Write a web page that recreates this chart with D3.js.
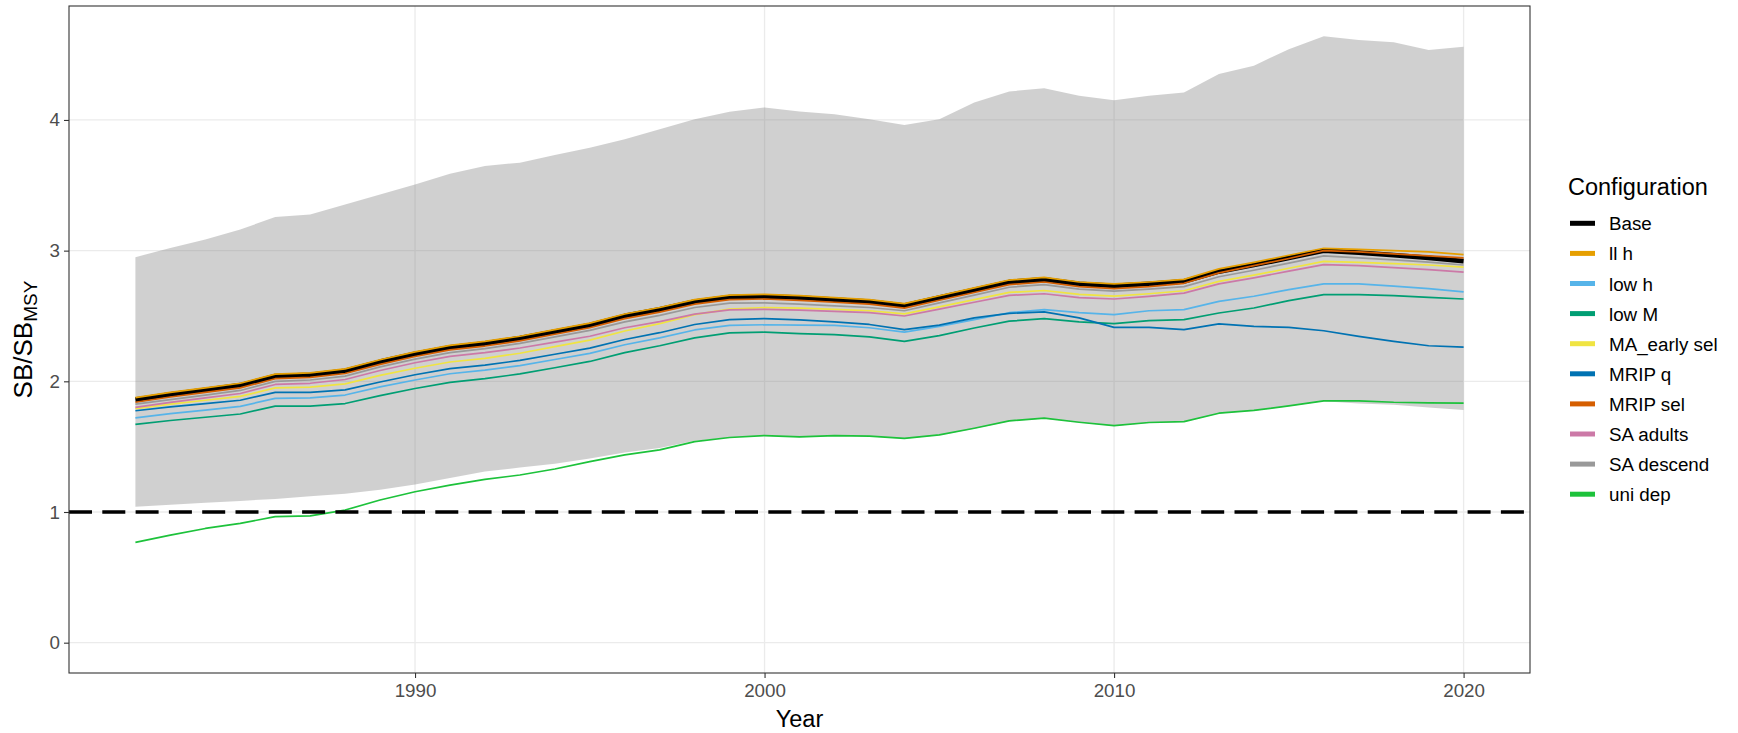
<!DOCTYPE html>
<html>
<head>
<meta charset="utf-8">
<script src="https://cdn.jsdelivr.net/npm/d3@7"></script>
<style>
  html, body { margin: 0; padding: 0; background: #ffffff; }
  svg { display: block; font-family: "Liberation Sans", Arial, Helvetica, sans-serif; }
</style>
</head>
<body>
<svg id="chart" width="1738" height="733"></svg>
<script>
// ---------------- DATA ----------------
const years = [1982,1983,1984,1985,1986,1987,1988,1989,1990,1991,
               1992,1993,1994,1995,1996,1997,1998,1999,2000,2001,
               2002,2003,2004,2005,2006,2007,2008,2009,2010,2011,
               2012,2013,2014,2015,2016,2017,2018,2019,2020];

const configNames = ["Base","ll h","low h","low M","MA_early sel","MRIP q","MRIP sel","SA adults","SA descend","uni dep"];
const configColors = ["#000000","#E69F00","#56B4E9","#009E73","#F0E442","#0072B2","#D55E00","#CC79A7","#999999","#1DC23B"];

const base      = [1.86,1.90,1.935,1.97,2.04,2.05,2.08,2.15,2.21,2.26, 2.29,2.33,2.38,2.43,2.50,2.55,2.61,2.645,2.65,2.64, 2.625,2.61,2.58,2.64,2.70,2.76,2.78,2.745,2.73,2.745, 2.765,2.84,2.89,2.945,3.00,2.985,2.965,2.945,2.92];
const llH       = [1.875,1.915,1.95,1.985,2.055,2.065,2.095,2.165,2.225,2.275, 2.305,2.345,2.395,2.445,2.515,2.565,2.625,2.66,2.665,2.655, 2.64,2.625,2.595,2.655,2.715,2.775,2.795,2.76,2.745,2.76, 2.78,2.86,2.91,2.965,3.018,3.01,3.00,2.99,2.97];
const lowH      = [1.72,1.753,1.78,1.808,1.87,1.873,1.895,1.958,2.01,2.058, 2.085,2.12,2.167,2.214,2.28,2.332,2.393,2.428,2.433,2.43, 2.428,2.41,2.377,2.42,2.472,2.525,2.549,2.525,2.51,2.54, 2.549,2.612,2.651,2.702,2.745,2.745,2.728,2.71,2.684];
const lowM      = [1.67,1.70,1.725,1.75,1.81,1.81,1.83,1.89,1.945,1.992, 2.02,2.057,2.104,2.152,2.22,2.272,2.333,2.37,2.376,2.365, 2.357,2.34,2.306,2.35,2.408,2.46,2.48,2.455,2.441,2.464, 2.472,2.523,2.561,2.618,2.664,2.664,2.656,2.643,2.63];
const maEarly   = [1.79,1.825,1.855,1.885,1.95,1.955,1.98,2.045,2.10,2.148, 2.175,2.215,2.265,2.315,2.385,2.442,2.51,2.553,2.565,2.56, 2.55,2.54,2.516,2.57,2.625,2.68,2.695,2.665,2.652,2.67, 2.693,2.765,2.812,2.865,2.918,2.91,2.90,2.89,2.874];
const mripQ     = [1.775,1.805,1.83,1.855,1.915,1.915,1.935,1.995,2.05,2.097, 2.124,2.16,2.207,2.254,2.32,2.372,2.435,2.472,2.48,2.47, 2.455,2.435,2.396,2.43,2.485,2.52,2.531,2.485,2.413,2.413, 2.395,2.439,2.421,2.413,2.387,2.344,2.306,2.272,2.262];
const mripSel   = [1.84,1.88,1.915,1.95,2.02,2.03,2.06,2.13,2.19,2.24, 2.27,2.31,2.36,2.41,2.48,2.53,2.59,2.625,2.63,2.62, 2.605,2.59,2.56,2.62,2.68,2.74,2.76,2.725,2.71,2.725, 2.75,2.83,2.885,2.94,3.00,2.99,2.975,2.96,2.945];
const saAdults  = [1.80,1.839,1.873,1.907,1.976,1.985,2.014,2.083,2.142,2.191, 2.22,2.255,2.30,2.345,2.41,2.457,2.514,2.547,2.55,2.545, 2.535,2.525,2.50,2.552,2.605,2.658,2.67,2.64,2.63,2.65, 2.675,2.746,2.792,2.843,2.893,2.885,2.87,2.855,2.836];
const saDescend = [1.825,1.86,1.895,1.93,2.00,2.01,2.04,2.11,2.17,2.22, 2.25,2.29,2.34,2.39,2.455,2.505,2.565,2.598,2.60,2.59, 2.578,2.565,2.54,2.60,2.66,2.72,2.74,2.705,2.69,2.705, 2.725,2.80,2.85,2.905,2.96,2.945,2.93,2.912,2.89];
const uniDep    = [0.767,0.823,0.874,0.913,0.964,0.971,1.015,1.092,1.155,1.206, 1.25,1.283,1.329,1.386,1.437,1.475,1.539,1.57,1.585,1.575, 1.585,1.58,1.564,1.59,1.641,1.697,1.718,1.687,1.661,1.685, 1.692,1.756,1.777,1.812,1.851,1.851,1.84,1.835,1.833];

const ribbonUpper = [2.95,3.021,3.085,3.162,3.257,3.277,3.354,3.43,3.507,3.589, 3.648,3.673,3.732,3.788,3.852,3.929,4.006,4.062,4.095,4.064, 4.044,4.006,3.962,4.006,4.133,4.218,4.243,4.185,4.151,4.185, 4.21,4.351,4.415,4.542,4.64,4.611,4.594,4.535,4.56];
const ribbonLower = [1.04,1.055,1.07,1.085,1.10,1.12,1.14,1.17,1.21,1.26, 1.31,1.34,1.37,1.41,1.455,1.49,1.545,1.57,1.583,1.572, 1.582,1.577,1.561,1.587,1.638,1.694,1.715,1.684,1.658,1.682, 1.689,1.753,1.774,1.809,1.848,1.83,1.82,1.80,1.78];

const refLine = 1;
const xTicks = [1990, 2000, 2010, 2020];
const yTicks = [0, 1, 2, 3, 4];

const seriesValues = [base, llH, lowH, lowM, maEarly, mripQ, mripSel, saAdults, saDescend, uniDep];

// ---------------- LAYOUT ----------------
const svg = d3.select("#chart");
const panel = { left: 69, right: 1530, top: 6, bottom: 673 };
const textSize = 18.8, titleSize = 23.5;

const xMin = d3.min(years), xMax = d3.max(years);
const xPad = (xMax - xMin) * 0.05;
const yLo = Math.min(0, d3.min(uniDep), d3.min(ribbonLower));
const yHi = d3.max(ribbonUpper);
const yPad = (yHi - yLo) * 0.05;

const x = d3.scaleLinear().domain([xMin - xPad, xMax + xPad]).range([panel.left, panel.right]);
const y = d3.scaleLinear().domain([yLo - yPad, yHi + yPad]).range([panel.bottom, panel.top]);

svg.append("rect").attr("x", 0).attr("y", 0).attr("width", 1738).attr("height", 733).attr("fill", "#ffffff");

// grid
const grid = svg.append("g");
grid.selectAll("line.gx").data(xTicks).enter().append("line")
  .attr("x1", d => x(d)).attr("x2", d => x(d))
  .attr("y1", panel.top).attr("y2", panel.bottom)
  .attr("stroke", "#EBEBEB").attr("stroke-width", 1.3);
grid.selectAll("line.gy").data(yTicks).enter().append("line")
  .attr("x1", panel.left).attr("x2", panel.right)
  .attr("y1", d => y(d)).attr("y2", d => y(d))
  .attr("stroke", "#EBEBEB").attr("stroke-width", 1.3);

// ribbon
const ribbonData = years.map((yr, i) => ({ yr, lo: ribbonLower[i], hi: ribbonUpper[i] }));
svg.append("path")
  .datum(ribbonData)
  .attr("d", d3.area().x(d => x(d.yr)).y0(d => y(d.lo)).y1(d => y(d.hi)))
  .attr("fill", "#808080").attr("fill-opacity", 0.37);

// lines
const lineGen = d3.line().x(d => x(d.yr)).y(d => y(d.v));
const linesG = svg.append("g").attr("fill", "none").attr("stroke-linejoin", "round").attr("stroke-linecap", "butt");
seriesValues.forEach((vals, k) => {
  linesG.append("path")
    .datum(years.map((yr, i) => ({ yr, v: vals[i] })))
    .attr("d", lineGen)
    .attr("stroke", configColors[k])
    .attr("stroke-width", k === 0 ? 4.8 : 1.7);
});

// reference dashed line
svg.append("line")
  .attr("x1", panel.left).attr("x2", panel.right)
  .attr("y1", y(refLine)).attr("y2", y(refLine))
  .attr("stroke", "#000000").attr("stroke-width", 3.3)
  .attr("stroke-dasharray", "23 10.3");

// panel border
svg.append("rect")
  .attr("x", panel.left).attr("y", panel.top)
  .attr("width", panel.right - panel.left).attr("height", panel.bottom - panel.top)
  .attr("fill", "none").attr("stroke", "#333333").attr("stroke-width", 1.1);

// axes
const xAxis = svg.append("g").attr("transform", `translate(0,${panel.bottom})`)
  .call(d3.axisBottom(x).tickValues(xTicks).tickFormat(d3.format("d")).tickSize(5).tickPadding(6));
const yAxis = svg.append("g").attr("transform", `translate(${panel.left},0)`)
  .call(d3.axisLeft(y).tickValues(yTicks).tickFormat(d3.format("d")).tickSize(5).tickPadding(4));
[xAxis, yAxis].forEach(a => {
  a.select(".domain").remove();
  a.selectAll(".tick line").attr("stroke", "#333333").attr("stroke-width", 1.1);
  a.selectAll(".tick text").attr("fill", "#4D4D4D").style("font-size", textSize + "px")
    .style("font-family", "'Liberation Sans', Arial, sans-serif");
});

// axis titles
svg.append("text")
  .attr("x", (panel.left + panel.right) / 2).attr("y", 727)
  .attr("text-anchor", "middle").style("font-size", titleSize + "px").attr("fill", "#000")
  .text("Year");

const yTitle = svg.append("text")
  .attr("transform", `translate(32,${(panel.top + panel.bottom) / 2}) rotate(-90)`)
  .attr("text-anchor", "middle").style("font-size", "26px").attr("fill", "#000");
yTitle.append("tspan").text("SB/SB");
yTitle.append("tspan").attr("dy", 5).style("font-size", "19px").text("MSY");

// legend
const legend = svg.append("g");
legend.append("text").attr("x", 1568).attr("y", 195)
  .style("font-size", titleSize + "px").attr("fill", "#000").text("Configuration");
const items = legend.selectAll("g.item").data(configNames).enter().append("g")
  .attr("transform", (d, i) => `translate(0,${223.3 + i * 30.1})`);
items.append("line").attr("x1", 1570).attr("x2", 1595).attr("y1", 0).attr("y2", 0)
  .attr("stroke", (d, i) => configColors[i]).attr("stroke-width", 5);
items.append("text").attr("x", 1609).attr("y", 7)
  .style("font-size", textSize + "px").attr("fill", "#000").text(d => d);
</script>
</body>
</html>
